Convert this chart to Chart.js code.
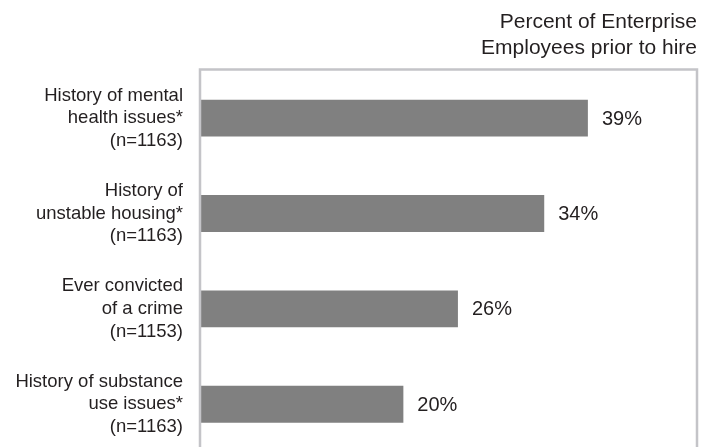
<!DOCTYPE html>
<html>
<head>
<meta charset="utf-8">
<script src="https://cdn.jsdelivr.net/npm/chart.js@4/dist/chart.umd.min.js"></script>
<style>
  html, body { margin: 0; padding: 0; background: #ffffff; overflow: hidden; }
  #wrap { position: relative; width: 717px; height: 460px; }
</style>
</head>
<body>
<div id="wrap"><canvas id="c" width="717" height="460"></canvas></div>
<script>
const categories = [
  ["History of mental", "health issues*", "(n=1163)"],
  ["History of", "unstable housing*", "(n=1163)"],
  ["Ever convicted", "of a crime", "(n=1153)"],
  ["History of substance", "use issues*", "(n=1163)"]
];
const percentValues = [39.0, 34.6, 25.9, 20.4];
const valueLabels = ["39%", "34%", "26%", "20%"];
const titleLines = ["Percent of Enterprise", "Employees prior to hire"];

const FONT = "'Liberation Sans', Arial, Helvetica, sans-serif";
const TEXT = "#231f20";

const frame = {
  id: 'frame',
  afterDatasetsDraw(chart) {
    const a = chart.chartArea, ctx = chart.ctx;
    ctx.save();
    ctx.strokeStyle = '#c4c4c8';
    ctx.lineWidth = 2.5;
    ctx.beginPath();
    ctx.moveTo(a.left - 1, a.bottom + 20);
    ctx.lineTo(a.left - 1, a.top - 1);
    ctx.lineTo(a.right, a.top - 1);
    ctx.lineTo(a.right, a.bottom + 20);
    ctx.stroke();
    ctx.restore();
  }
};

const valueLabelPlugin = {
  id: 'valueLabels',
  afterDatasetsDraw(chart) {
    const ctx = chart.ctx;
    const meta = chart.getDatasetMeta(0);
    ctx.save();
    ctx.font = "20px " + FONT;
    ctx.fillStyle = TEXT;
    ctx.textAlign = 'left';
    ctx.textBaseline = 'middle';
    meta.data.forEach((bar, i) => {
      ctx.fillText(valueLabels[i], bar.x + 14, bar.y + 1);
    });
    ctx.restore();
  }
};

new Chart(document.getElementById('c'), {
  type: 'bar',
  data: {
    labels: categories,
    datasets: [{
      data: percentValues,
      backgroundColor: '#808080',
      borderWidth: 0,
      categoryPercentage: 1,
      barPercentage: 0.387
    }]
  },
  options: {
    indexAxis: 'y',
    responsive: false,
    animation: false,
    devicePixelRatio: 1,
    layout: { padding: { left: 0, right: 20, top: 0, bottom: 8 } },
    plugins: {
      legend: { display: false },
      tooltip: { enabled: false },
      title: {
        display: true,
        text: titleLines,
        align: 'end',
        color: TEXT,
        font: { family: FONT, size: 21, weight: 'normal', lineHeight: 1.2 },
        padding: { top: 10, bottom: 10 }
      }
    },
    scales: {
      x: {
        display: false,
        min: 0,
        max: 50
      },
      y: {
        grid: { display: false, drawTicks: false },
        border: { display: false },
        afterFit(scale) {
          scale.width = 201;
          scale.paddingTop = 0;
          scale.paddingBottom = 0;
        },
        ticks: {
          color: TEXT,
          padding: 18,
          font: { family: FONT, size: 18.5, lineHeight: 1.22 }
        }
      }
    }
  },
  plugins: [frame, valueLabelPlugin]
});
</script>
</body>
</html>
